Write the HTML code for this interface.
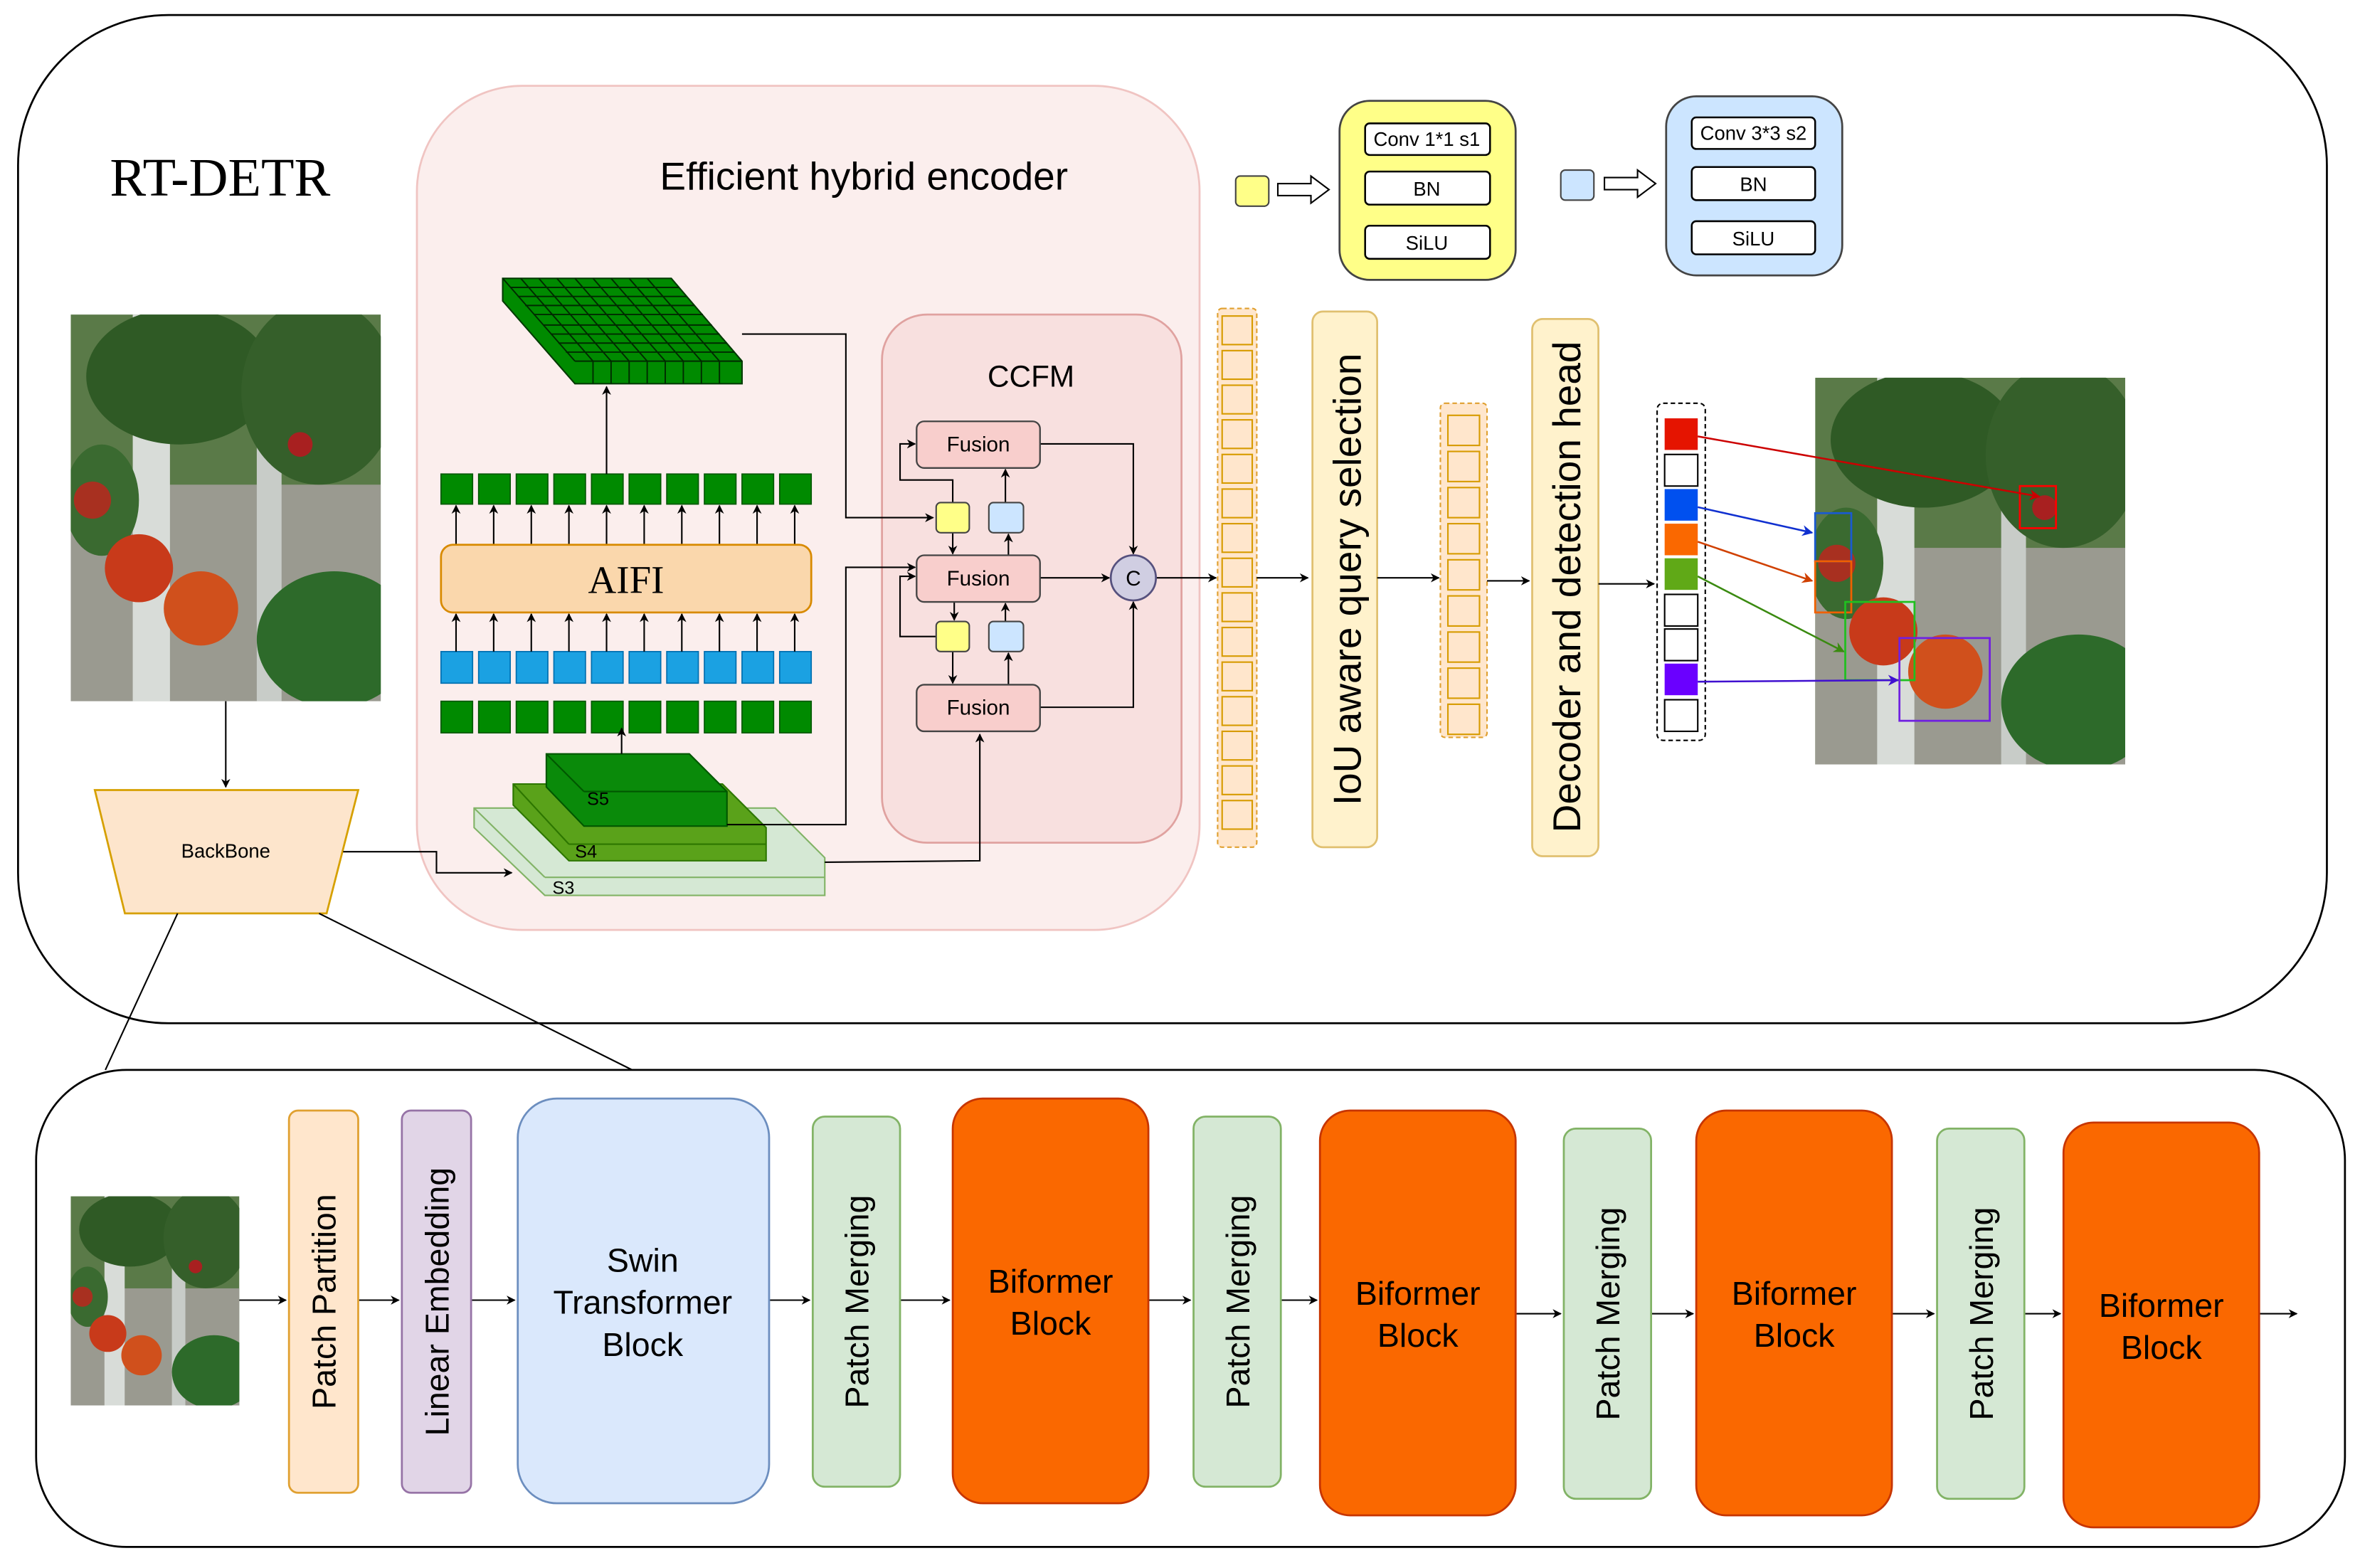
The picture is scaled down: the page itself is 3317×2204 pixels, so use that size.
<!DOCTYPE html>
<html><head><meta charset="utf-8"><style>
html,body{margin:0;padding:0;background:#fff;width:3317px;height:2204px;overflow:hidden}
svg{display:block}
text{font-family:"Liberation Sans",sans-serif;fill:#000}
</style></head><body>
<svg width="3317" height="2204" viewBox="0 0 1568 1042" preserveAspectRatio="none" xmlns="http://www.w3.org/2000/svg">
<defs>
<marker id="a" viewBox="0 0 10 10" refX="9" refY="5" markerWidth="6" markerHeight="6" orient="auto"><path d="M0,0 L10,5 L0,10 L3,5z" fill="#000"/></marker>
<marker id="ar" viewBox="0 0 10 10" refX="9" refY="5" markerWidth="6" markerHeight="6" orient="auto"><path d="M0,0 L10,5 L0,10 L3,5z" fill="#c00"/></marker>
<marker id="ab" viewBox="0 0 10 10" refX="9" refY="5" markerWidth="6" markerHeight="6" orient="auto"><path d="M0,0 L10,5 L0,10 L3,5z" fill="#1030d0"/></marker>
<marker id="ao" viewBox="0 0 10 10" refX="9" refY="5" markerWidth="6" markerHeight="6" orient="auto"><path d="M0,0 L10,5 L0,10 L3,5z" fill="#d04000"/></marker>
<marker id="ag" viewBox="0 0 10 10" refX="9" refY="5" markerWidth="6" markerHeight="6" orient="auto"><path d="M0,0 L10,5 L0,10 L3,5z" fill="#3a8a10"/></marker>
<marker id="ap" viewBox="0 0 10 10" refX="9" refY="5" markerWidth="6" markerHeight="6" orient="auto"><path d="M0,0 L10,5 L0,10 L3,5z" fill="#4010d0"/></marker>
<symbol id="photo" viewBox="0 0 100 125" preserveAspectRatio="none">
<rect width="100" height="125" fill="#5a7a48"/>
<rect x="0" y="55" width="100" height="70" fill="#9a9a90"/>
<rect x="20" y="0" width="12" height="125" fill="#d8dcd8"/>
<rect x="60" y="30" width="8" height="95" fill="#c8ccc8"/>
<ellipse cx="35" cy="20" rx="30" ry="22" fill="#2f5a25"/>
<ellipse cx="80" cy="25" rx="25" ry="30" fill="#355f2a"/>
<ellipse cx="85" cy="105" rx="25" ry="22" fill="#2d6a2a"/>
<ellipse cx="10" cy="60" rx="12" ry="18" fill="#3a6a30"/>
<circle cx="22" cy="82" r="11" fill="#c83a1a"/>
<circle cx="42" cy="95" r="12" fill="#d0501c"/>
<circle cx="7" cy="60" r="6" fill="#a83020"/>
<circle cx="74" cy="42" r="4" fill="#a82020"/>
</symbol>
</defs>

<!-- outer top -->
<rect x="12" y="10" width="1534" height="670" rx="100" fill="#fff" stroke="#000" stroke-width="1.3"/>
<text x="73" y="130" font-family="Liberation Serif" style="font-family:'Liberation Serif',serif" font-size="36">RT-DETR</text>

<!-- encoder -->
<rect x="277" y="57" width="520" height="561" rx="70" fill="#fbeeed" stroke="#f0c4c2" stroke-width="1.3"/>
<text x="574" y="126" font-size="26" text-anchor="middle">Efficient hybrid encoder</text>

<use href="#photo" x="47" y="209" width="206" height="257"/>
<line x1="150" y1="466" x2="150" y2="523" stroke="#000" marker-end="url(#a)"/>
<polygon points="63,525 238,525 217,607 83,607" fill="#fde5cc" stroke="#d6a000" stroke-width="1.3"/>
<text x="150" y="570" font-size="13" text-anchor="middle">BackBone</text>
<polyline points="228,566 290,566 290,580 340,580" fill="none" stroke="#000" marker-end="url(#a)"/>

<!-- S layers -->
<polygon points="315,537 515,537 548,570 548,595 362,595 315,550" fill="#d5e8d4" stroke="#82b366"/>
<line x1="362" y1="583" x2="548" y2="583" stroke="#82b366"/><line x1="315" y1="537" x2="362" y2="583" stroke="#82b366"/>
<text x="367" y="594" font-size="12">S3</text>
<polygon points="341,521 480,521 509,550 509,572 378,572 341,535" fill="#5aa21a" stroke="#2d7600"/>
<line x1="378" y1="561" x2="509" y2="561" stroke="#2d7600"/><line x1="341" y1="521" x2="378" y2="561" stroke="#2d7600"/>
<text x="382" y="570" font-size="12">S4</text>
<polygon points="363,501 458,501 483,526 483,549 388,549 363,523" fill="#0a8a0a" stroke="#005700"/>
<line x1="388" y1="526" x2="483" y2="526" stroke="#005700"/><line x1="363" y1="501" x2="388" y2="526" stroke="#005700"/>
<text x="390" y="535" font-size="12">S5</text>

<!-- rows -->
<g stroke="#005700" stroke-width="0.8">
<g fill="#008a00">
<rect x="293" y="466" width="21" height="21"/><rect x="318" y="466" width="21" height="21"/><rect x="343" y="466" width="21" height="21"/><rect x="368" y="466" width="21" height="21"/><rect x="393" y="466" width="21" height="21"/><rect x="418" y="466" width="21" height="21"/><rect x="443" y="466" width="21" height="21"/><rect x="468" y="466" width="21" height="21"/><rect x="493" y="466" width="21" height="21"/><rect x="518" y="466" width="21" height="21"/>
<rect x="293" y="315" width="21" height="20"/><rect x="318" y="315" width="21" height="20"/><rect x="343" y="315" width="21" height="20"/><rect x="368" y="315" width="21" height="20"/><rect x="393" y="315" width="21" height="20"/><rect x="418" y="315" width="21" height="20"/><rect x="443" y="315" width="21" height="20"/><rect x="468" y="315" width="21" height="20"/><rect x="493" y="315" width="21" height="20"/><rect x="518" y="315" width="21" height="20"/>
</g></g>
<g fill="#1ba1e2" stroke="#006eaf" stroke-width="0.8">
<rect x="293" y="433" width="21" height="21"/><rect x="318" y="433" width="21" height="21"/><rect x="343" y="433" width="21" height="21"/><rect x="368" y="433" width="21" height="21"/><rect x="393" y="433" width="21" height="21"/><rect x="418" y="433" width="21" height="21"/><rect x="443" y="433" width="21" height="21"/><rect x="468" y="433" width="21" height="21"/><rect x="493" y="433" width="21" height="21"/><rect x="518" y="433" width="21" height="21"/>
</g>
<line x1="413" y1="501" x2="413" y2="484" stroke="#000" marker-end="url(#a)"/>
<g stroke="#000" marker-end="url(#a)">
<line x1="303" y1="433" x2="303" y2="408"/><line x1="328" y1="433" x2="328" y2="408"/><line x1="353" y1="433" x2="353" y2="408"/><line x1="378" y1="433" x2="378" y2="408"/><line x1="403" y1="433" x2="403" y2="408"/><line x1="428" y1="433" x2="428" y2="408"/><line x1="453" y1="433" x2="453" y2="408"/><line x1="478" y1="433" x2="478" y2="408"/><line x1="503" y1="433" x2="503" y2="408"/><line x1="528" y1="433" x2="528" y2="408"/>
<line x1="303" y1="362" x2="303" y2="336"/><line x1="328" y1="362" x2="328" y2="336"/><line x1="353" y1="362" x2="353" y2="336"/><line x1="378" y1="362" x2="378" y2="336"/><line x1="403" y1="362" x2="403" y2="336"/><line x1="428" y1="362" x2="428" y2="336"/><line x1="453" y1="362" x2="453" y2="336"/><line x1="478" y1="362" x2="478" y2="336"/><line x1="503" y1="362" x2="503" y2="336"/><line x1="528" y1="362" x2="528" y2="336"/>
<line x1="403" y1="315" x2="403" y2="257"/>
</g>
<rect x="293" y="362" width="246" height="45" rx="8" fill="#fad7ac" stroke="#d88a00" stroke-width="1.3"/>
<text x="416" y="394" font-size="26" text-anchor="middle" style="font-family:'Liberation Serif',serif">AIFI</text>

<!-- 3d grid -->
<polygon points="334,185 446,185 493,240 493,255 382,255 334,200" fill="#008a00" stroke="#003a00"/>
<g stroke="#002a00" stroke-width="0.9" fill="none">
<line x1="382" y1="240" x2="493" y2="240"/><line x1="334" y1="185" x2="382" y2="240"/>
<line x1="339" y1="191" x2="451" y2="191"/><line x1="344" y1="197" x2="456" y2="197"/><line x1="349" y1="203" x2="461" y2="203"/><line x1="355" y1="209" x2="467" y2="209"/><line x1="361" y1="216" x2="473" y2="216"/><line x1="366" y1="222" x2="478" y2="222"/><line x1="371" y1="228" x2="483" y2="228"/><line x1="376" y1="234" x2="488" y2="234"/>
<line x1="346" y1="185" x2="394" y2="240"/><line x1="358" y1="185" x2="406" y2="240"/><line x1="370" y1="185" x2="418" y2="240"/><line x1="382" y1="185" x2="430" y2="240"/><line x1="394" y1="185" x2="442" y2="240"/><line x1="406" y1="185" x2="454" y2="240"/><line x1="418" y1="185" x2="466" y2="240"/><line x1="430" y1="185" x2="478" y2="240"/>
<line x1="394" y1="240" x2="394" y2="255"/><line x1="406" y1="240" x2="406" y2="255"/><line x1="418" y1="240" x2="418" y2="255"/><line x1="430" y1="240" x2="430" y2="255"/><line x1="442" y1="240" x2="442" y2="255"/><line x1="454" y1="240" x2="454" y2="255"/><line x1="466" y1="240" x2="466" y2="255"/><line x1="478" y1="240" x2="478" y2="255"/>
</g>

<!-- CCFM -->
<rect x="586" y="209" width="199" height="351" rx="30" fill="#f8e0df" stroke="#e0a2a0" stroke-width="1.3"/>
<text x="685" y="257" font-size="20" text-anchor="middle">CCFM</text>
<g stroke="#000" fill="none">
<polyline points="493,222 562,222 562,344 620,344" marker-end="url(#a)"/>
<polyline points="483,548 562,548 562,377 608,377" marker-end="url(#a)"/>
<polyline points="548,573 651,572 651,488" marker-end="url(#a)"/>
<polyline points="633,334 633,319 598,319 598,295 608,295" marker-end="url(#a)"/>
<line x1="633" y1="354" x2="633" y2="368" marker-end="url(#a)"/>
<line x1="668" y1="334" x2="668" y2="312" marker-end="url(#a)"/>
<line x1="670" y1="369" x2="670" y2="355" marker-end="url(#a)"/>
<polyline points="622,423 598,423 598,383 608,383" marker-end="url(#a)"/>
<line x1="634" y1="400" x2="634" y2="412" marker-end="url(#a)"/>
<line x1="633" y1="433" x2="633" y2="454" marker-end="url(#a)"/>
<line x1="668" y1="420" x2="668" y2="401" marker-end="url(#a)"/>
<line x1="670" y1="455" x2="670" y2="434" marker-end="url(#a)"/>
<polyline points="691,295 753,295 753,368" marker-end="url(#a)"/>
<line x1="691" y1="384" x2="737" y2="384" marker-end="url(#a)"/>
<polyline points="691,470 753,470 753,400" marker-end="url(#a)"/>
<line x1="768" y1="384" x2="808" y2="384" marker-end="url(#a)"/>
</g>
<g fill="#f8cecc" stroke="#444" stroke-width="1.1">
<rect x="609" y="280" width="82" height="31" rx="5"/><rect x="609" y="369" width="82" height="31" rx="5"/><rect x="609" y="455" width="82" height="31" rx="5"/>
</g>
<g font-size="14" text-anchor="middle"><text x="650" y="300">Fusion</text><text x="650" y="389">Fusion</text><text x="650" y="475">Fusion</text></g>
<g stroke="#444" stroke-width="1"><rect x="622" y="334" width="22" height="20" rx="3" fill="#ffff88"/><rect x="657" y="334" width="23" height="20" rx="3" fill="#cce5ff"/>
<rect x="622" y="413" width="22" height="20" rx="3" fill="#ffff88"/><rect x="657" y="413" width="23" height="20" rx="3" fill="#cce5ff"/></g>
<circle cx="753" cy="384" r="15" fill="#d0cee2" stroke="#56517e" stroke-width="1.3"/>
<text x="753" y="389" font-size="14" text-anchor="middle">C</text>

<!-- column 1 -->
<rect x="809" y="205" width="26" height="358" rx="3" fill="#ffe6cc" stroke="#e0a030" stroke-dasharray="3,2"/>
<g fill="#ffe6cc" stroke="#d79b00">
<rect x="812" y="210" width="20" height="19"/><rect x="812" y="233" width="20" height="19"/><rect x="812" y="256" width="20" height="19"/><rect x="812" y="279" width="20" height="19"/><rect x="812" y="302" width="20" height="19"/><rect x="812" y="325" width="20" height="19"/><rect x="812" y="348" width="20" height="19"/><rect x="812" y="371" width="20" height="19"/><rect x="812" y="394" width="20" height="19"/><rect x="812" y="417" width="20" height="19"/><rect x="812" y="440" width="20" height="19"/><rect x="812" y="463" width="20" height="19"/><rect x="812" y="486" width="20" height="19"/><rect x="812" y="509" width="20" height="19"/><rect x="812" y="532" width="20" height="19"/>
</g>
<line x1="835" y1="384" x2="869" y2="384" stroke="#000" marker-end="url(#a)"/>
<rect x="872" y="207" width="43" height="356" rx="7" fill="#fff2cc" stroke="#e0c070" stroke-width="1.3"/>
<text transform="translate(904,385) rotate(-90)" font-size="26" text-anchor="middle">IoU aware query selection</text>
<line x1="915" y1="384" x2="956" y2="384" stroke="#000" marker-end="url(#a)"/>
<rect x="957" y="268" width="31" height="222" rx="3" fill="#ffe6cc" stroke="#e0a030" stroke-dasharray="3,2"/>
<g fill="#ffe6cc" stroke="#d79b00">
<rect x="962" y="276" width="21" height="20"/><rect x="962" y="300" width="21" height="20"/><rect x="962" y="324" width="21" height="20"/><rect x="962" y="348" width="21" height="20"/><rect x="962" y="372" width="21" height="20"/><rect x="962" y="396" width="21" height="20"/><rect x="962" y="420" width="21" height="20"/><rect x="962" y="444" width="21" height="20"/><rect x="962" y="468" width="21" height="20"/>
</g>
<line x1="988" y1="386" x2="1016" y2="386" stroke="#000" marker-end="url(#a)"/>
<rect x="1018" y="212" width="44" height="357" rx="7" fill="#fff2cc" stroke="#e0c070" stroke-width="1.3"/>
<text transform="translate(1050,390) rotate(-90)" font-size="26" text-anchor="middle">Decoder and detection head</text>
<line x1="1062" y1="388" x2="1099" y2="388" stroke="#000" marker-end="url(#a)"/>
<rect x="1101" y="268" width="32" height="224" rx="4" fill="#fff" stroke="#000" stroke-dasharray="3,2"/>
<g stroke="#000" stroke-width="1">
<rect x="1106" y="278" width="22" height="21" fill="#e51400" stroke="none"/>
<rect x="1106" y="302" width="22" height="21" fill="#fff"/>
<rect x="1106" y="325" width="22" height="21" fill="#0050ef" stroke="none"/>
<rect x="1106" y="348" width="22" height="21" fill="#fa6800" stroke="none"/>
<rect x="1106" y="371" width="22" height="21" fill="#60a917" stroke="none"/>
<rect x="1106" y="395" width="22" height="21" fill="#fff"/>
<rect x="1106" y="418" width="22" height="21" fill="#fff"/>
<rect x="1106" y="441" width="22" height="21" fill="#6a00ff" stroke="none"/>
<rect x="1106" y="465" width="22" height="21" fill="#fff"/>
</g>
<use href="#photo" x="1206" y="251" width="206" height="257"/>
<g fill="none" stroke-width="1.3">
<rect x="1342" y="323" width="24" height="28" stroke="#f00"/>
<rect x="1206" y="341" width="24" height="32" stroke="#1a5ad0"/>
<rect x="1206" y="373" width="24" height="34" stroke="#f06000"/>
<rect x="1226" y="400" width="46" height="52" stroke="#20c020"/>
<rect x="1262" y="424" width="60" height="55" stroke="#7020e0"/>
</g>
<g fill="none" stroke-width="1.2">
<line x1="1128" y1="290" x2="1355" y2="330" stroke="#c00" marker-end="url(#ar)"/>
<line x1="1128" y1="337" x2="1204" y2="354" stroke="#1030d0" marker-end="url(#ab)"/>
<line x1="1128" y1="360" x2="1204" y2="386" stroke="#d04000" marker-end="url(#ao)"/>
<line x1="1128" y1="383" x2="1225" y2="433" stroke="#3a8a10" marker-end="url(#ag)"/>
<line x1="1128" y1="453" x2="1261" y2="452" stroke="#4010d0" marker-end="url(#ap)"/>
</g>

<!-- legends -->
<rect x="821" y="117" width="22" height="20" rx="3" fill="#ffff88" stroke="#444"/>
<path d="M849,122 h22 v-5 l12,9 l-12,9 v-5 h-22z" fill="#fff" stroke="#000"/>
<rect x="890" y="67" width="117" height="119" rx="20" fill="#ffff88" stroke="#444" stroke-width="1.3"/>
<g fill="#fff" stroke="#000" stroke-width="1.2"><rect x="907" y="82" width="83" height="21" rx="3"/><rect x="907" y="114" width="83" height="22" rx="3"/><rect x="907" y="150" width="83" height="22" rx="3"/></g>
<g font-size="13" text-anchor="middle"><text x="948" y="97">Conv 1*1 s1</text><text x="948" y="130">BN</text><text x="948" y="166">SiLU</text></g>
<rect x="1037" y="113" width="22" height="20" rx="3" fill="#cce5ff" stroke="#444"/>
<path d="M1066,118 h22 v-5 l12,9 l-12,9 v-5 h-22z" fill="#fff" stroke="#000"/>
<rect x="1107" y="64" width="117" height="119" rx="20" fill="#cce5ff" stroke="#444" stroke-width="1.3"/>
<g fill="#fff" stroke="#000" stroke-width="1.2"><rect x="1124" y="78" width="82" height="21" rx="3"/><rect x="1124" y="111" width="82" height="22" rx="3"/><rect x="1124" y="147" width="82" height="22" rx="3"/></g>
<g font-size="13" text-anchor="middle"><text x="1165" y="93">Conv 3*3 s2</text><text x="1165" y="127">BN</text><text x="1165" y="163">SiLU</text></g>

<!-- bottom -->
<rect x="24" y="711" width="1534" height="317" rx="60" fill="#fff" stroke="#000" stroke-width="1.3"/>
<line x1="118" y1="607" x2="70" y2="711" stroke="#000"/>
<line x1="212" y1="607" x2="420" y2="711" stroke="#000"/>
<use href="#photo" x="47" y="795" width="112" height="139"/>
<g stroke="#000" marker-end="url(#a)">
<line x1="159" y1="864" x2="190" y2="864"/><line x1="238" y1="864" x2="265" y2="864"/><line x1="313" y1="864" x2="342" y2="864"/><line x1="511" y1="864" x2="538" y2="864"/><line x1="598" y1="864" x2="631" y2="864"/><line x1="763" y1="864" x2="791" y2="864"/><line x1="851" y1="864" x2="875" y2="864"/><line x1="1007" y1="873" x2="1037" y2="873"/><line x1="1097" y1="873" x2="1125" y2="873"/><line x1="1257" y1="873" x2="1285" y2="873"/><line x1="1345" y1="873" x2="1369" y2="873"/><line x1="1501" y1="873" x2="1526" y2="873"/>
</g>
<rect x="192" y="738" width="46" height="254" rx="6" fill="#ffe6cc" stroke="#e0a030" stroke-width="1.3"/>
<text transform="translate(223,865) rotate(-90)" font-size="22" text-anchor="middle">Patch Partition</text>
<rect x="267" y="738" width="46" height="254" rx="6" fill="#e1d5e7" stroke="#9673a6" stroke-width="1.3"/>
<text transform="translate(298,865) rotate(-90)" font-size="22" text-anchor="middle">Linear Embedding</text>
<rect x="344" y="730" width="167" height="269" rx="26" fill="#dae8fc" stroke="#6c8ebf" stroke-width="1.3"/>
<g font-size="22" text-anchor="middle"><text x="427" y="845">Swin</text><text x="427" y="873">Transformer</text><text x="427" y="901">Block</text></g>
<g fill="#d5e8d4" stroke="#82b366" stroke-width="1.3">
<rect x="540" y="742" width="58" height="246" rx="8"/><rect x="793" y="742" width="58" height="246" rx="8"/><rect x="1039" y="750" width="58" height="246" rx="8"/><rect x="1287" y="750" width="58" height="246" rx="8"/>
</g>
<g font-size="22" text-anchor="middle">
<text transform="translate(577,865) rotate(-90)">Patch Merging</text>
<text transform="translate(830,865) rotate(-90)">Patch Merging</text>
<text transform="translate(1076,873) rotate(-90)">Patch Merging</text>
<text transform="translate(1324,873) rotate(-90)">Patch Merging</text>
</g>
<g fill="#fa6800" stroke="#c73500" stroke-width="1.3">
<rect x="633" y="730" width="130" height="269" rx="20"/><rect x="877" y="738" width="130" height="269" rx="20"/><rect x="1127" y="738" width="130" height="269" rx="20"/><rect x="1371" y="746" width="130" height="269" rx="20"/>
</g>
<g font-size="22" text-anchor="middle">
<text x="698" y="859">Biformer</text><text x="698" y="887">Block</text>
<text x="942" y="867">Biformer</text><text x="942" y="895">Block</text>
<text x="1192" y="867">Biformer</text><text x="1192" y="895">Block</text>
<text x="1436" y="875">Biformer</text><text x="1436" y="903">Block</text>
</g>
</svg>
</body></html>
